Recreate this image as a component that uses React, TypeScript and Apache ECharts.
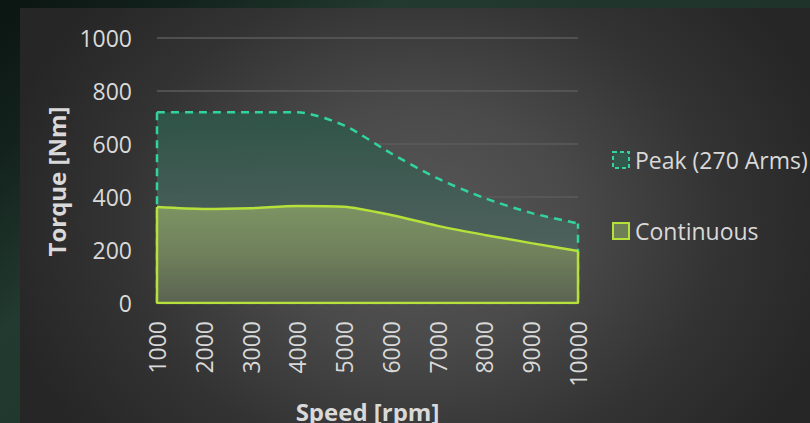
import React, { useEffect, useRef } from "react";
import * as echarts from "echarts";

// Motor torque envelope: speed in rpm, torque in Nm
const speeds = [1000, 2000, 3000, 4000, 5000, 6000, 7000, 8000, 9000, 10000];
const peakTorque = [720, 720, 720, 720, 670, 565, 470, 396, 340, 300];
const continuousTorque = [362, 355, 358, 366, 363, 332, 291, 257, 226, 196];
const yTicks = [0, 200, 400, 600, 800, 1000];

const PEAK_NAME = "Peak (270 Arms)";
const CONT_NAME = "Continuous";

const FONT = "'Open Sans', 'Noto Sans', sans-serif";
const TEXT = "#d9d9d9";
const PEAK_LINE = "#33d39e";
const CONT_LINE = "#b6e03a";

const pairs = (ys: number[]) => speeds.map((s, i) => [s, ys[i]]);
// left edge, baseline and right edge that close an area outline
const outline = (ys: number[]) => [
  [speeds[0], ys[0]],
  [speeds[0], 0],
  [speeds[speeds.length - 1], 0],
  [speeds[speeds.length - 1], ys[ys.length - 1]],
];

export default function App() {
  const ref = useRef<HTMLDivElement>(null);

  useEffect(() => {
    if (!ref.current) return;
    const chart = echarts.init(ref.current, null, { renderer: "svg" });

    chart.setOption({
      animation: false,
      backgroundColor: "transparent",
      textStyle: { fontFamily: FONT },
      grid: {
        left: 137,
        width: 421,
        top: 30,
        height: 265,
        containLabel: false,
        outerBoundsMode: "none",
      },
      legend: {
        orient: "vertical",
        left: 587,
        top: 135,
        itemWidth: 16,
        itemHeight: 16,
        itemGap: 47,
        selectedMode: false,
        textStyle: {
          color: TEXT,
          fontSize: 23,
          lineHeight: 24,
          fontFamily: FONT,
          padding: [0, 0, 0, 1],
        },
        data: [
          {
            name: PEAK_NAME,
            icon: "rect",
            itemStyle: {
              color: "#34574c",
              borderColor: PEAK_LINE,
              borderWidth: 2,
              borderType: [4, 3],
            },
          },
          {
            name: CONT_NAME,
            icon: "rect",
            itemStyle: {
              color: "#6e7f58",
              borderColor: CONT_LINE,
              borderWidth: 2,
              borderType: "solid",
            },
          },
        ],
      },
      xAxis: {
        type: "value",
        min: speeds[0],
        max: speeds[speeds.length - 1],
        interval: 1000,
        name: "Speed [rpm]",
        nameLocation: "middle",
        nameGap: 96,
        nameTextStyle: { color: TEXT, fontSize: 24, fontWeight: "bold", fontFamily: FONT },
        axisLine: { show: false },
        axisTick: { show: false },
        splitLine: { show: false },
        axisLabel: {
          color: TEXT,
          fontSize: 23,
          fontFamily: FONT,
          rotate: 90,
          margin: 18,
          formatter: (v: number) => String(v),
        },
      },
      yAxis: {
        type: "value",
        min: yTicks[0],
        max: yTicks[yTicks.length - 1],
        interval: yTicks[1] - yTicks[0],
        name: "Torque [Nm]",
        nameLocation: "middle",
        nameGap: 82,
        nameRotate: 90,
        nameTextStyle: {
          color: TEXT,
          fontSize: 24,
          fontWeight: "bold",
          fontFamily: FONT,
          padding: [0, 22, 0, 0],
        },
        axisLine: { show: false },
        axisTick: { show: false },
        axisLabel: {
          color: TEXT,
          fontSize: 23,
          fontFamily: FONT,
          margin: 25,
          formatter: (v: number) => String(v),
        },
        splitLine: { lineStyle: { color: "#5b5b5b", width: 1.5 } },
      },
      series: [
        {
          name: PEAK_NAME,
          type: "line",
          data: pairs(peakTorque),
          smooth: 0.25,
          symbol: "none",
          z: 2,
          lineStyle: { color: PEAK_LINE, width: 2.5, type: [8, 6] },
          itemStyle: { color: PEAK_LINE },
          areaStyle: {
            opacity: 1,
            color: new echarts.graphic.LinearGradient(0, 0, 0, 1, [
              { offset: 0, color: "rgba(46,85,71,0.95)" },
              { offset: 0.5, color: "rgba(70,94,88,0.95)" },
              { offset: 1, color: "rgba(90,104,100,0.95)" },
            ]),
          },
        },
        {
          name: "peak-edge",
          type: "line",
          data: outline(peakTorque),
          symbol: "none",
          silent: true,
          z: 3,
          lineStyle: { color: PEAK_LINE, width: 2.5, type: [8, 6] },
        },
        {
          name: CONT_NAME,
          type: "line",
          data: pairs(continuousTorque),
          smooth: 0.25,
          symbol: "none",
          z: 4,
          lineStyle: { color: CONT_LINE, width: 2.5 },
          itemStyle: { color: CONT_LINE },
          areaStyle: {
            opacity: 1,
            color: new echarts.graphic.LinearGradient(0, 0, 0, 1, [
              { offset: 0, color: "#7c9363" },
              { offset: 0.5, color: "#6f805b" },
              { offset: 1, color: "#5b6352" },
            ]),
          },
        },
        {
          name: "continuous-edge",
          type: "line",
          data: outline(continuousTorque),
          symbol: "none",
          silent: true,
          z: 5,
          lineStyle: { color: CONT_LINE, width: 2.5 },
        },
      ],
    });

    return () => chart.dispose();
  }, []);

  return (
    <div
      style={{
        position: "fixed",
        inset: 0,
        overflow: "hidden",
        background:
          "linear-gradient(140deg, #0b1512 0%, #13221d 14%, #223a2f 30%, #1f332a 60%, #1c2e27 100%)",
      }}
    >
      <div
        ref={ref}
        style={{
          position: "absolute",
          left: 20,
          top: 8,
          width: 790,
          height: 415,
          background:
            "radial-gradient(ellipse 430px 340px at 400px 215px, #575757 0%, #4a4a4a 35%, #333333 70%, #262626 100%)",
        }}
      />
    </div>
  );
}
